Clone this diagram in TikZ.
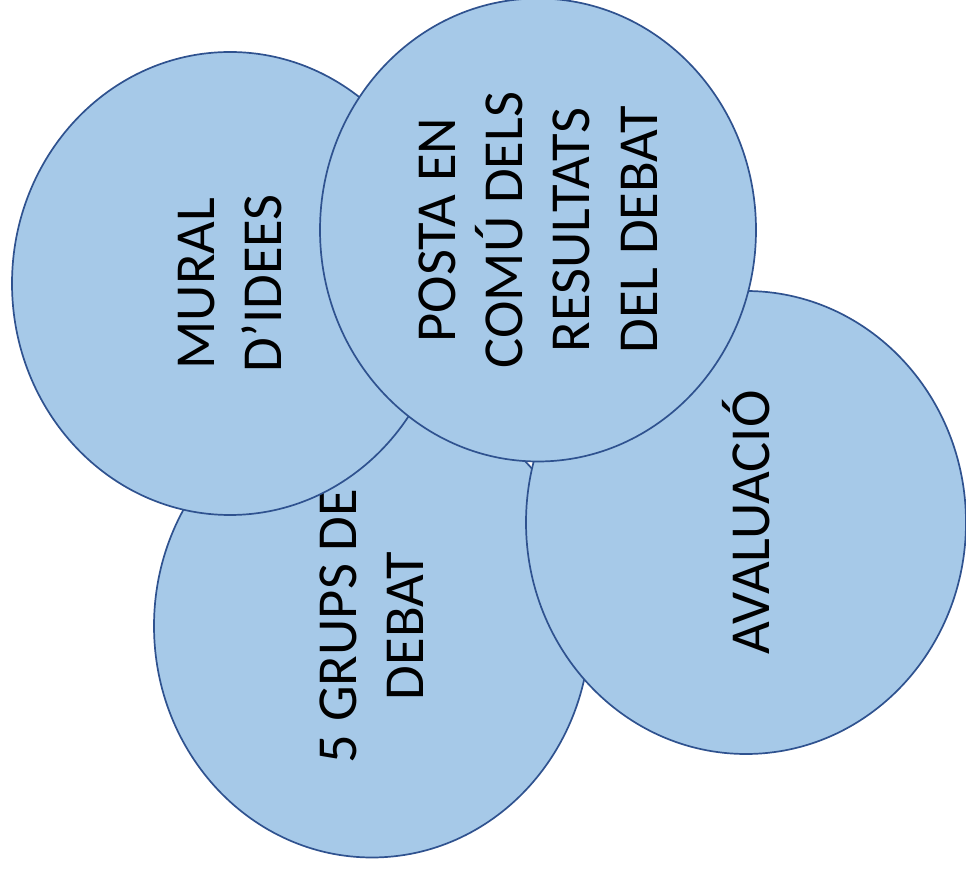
\documentclass[tikz,border=0pt]{standalone}
\usepackage{fontspec}
\setmainfont{Carlito}
\usetikzlibrary{shapes.geometric}
\definecolor{bubfill}{RGB}{166,201,232}
\definecolor{bubline}{RGB}{47,82,143}
\tikzset{
  bub/.style={ellipse, draw=bubline, fill=bubfill, line width=1.7pt,
    minimum width=463pt, minimum height=436pt, inner sep=0pt,
    rotate=90, align=center, text=black,
    font=\fontsize{56.5}{67.3}\selectfont}
}
\begin{document}
\begin{tikzpicture}[x=1pt,y=1pt]
\useasboundingbox (0,0) rectangle (966,870);
\node[bub] (grups) at (372,244) {5 GRUPS DE\\DEBAT};
\node[bub, minimum height=440pt] (aval) at (746,347.5) {AVALUACIÓ};
\node[bub] (mural) at (230,586.5) {MURAL\\D’IDEES};
\node[bub] (posta) at (538,640) {POSTA EN\\COMÚ DELS\\RESULTATS\\DEL DEBAT};
\end{tikzpicture}
\end{document}
